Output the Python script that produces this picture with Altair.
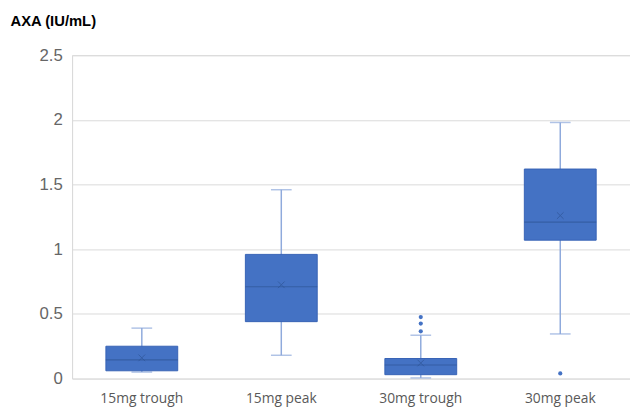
import altair as alt
import pandas as pd

categories = ["15mg trough", "15mg peak", "30mg trough", "30mg peak"]
whisker_low = [0.05, 0.18, 0.005, 0.345]
q1 = [0.06, 0.44, 0.03, 1.07]
median = [0.145, 0.71, 0.105, 1.21]
q3 = [0.25, 0.96, 0.155, 1.62]
whisker_high = [0.39, 1.46, 0.335, 1.98]
mean = [0.16, 0.725, 0.12, 1.26]

outlier_cat = ["30mg trough", "30mg trough", "30mg trough", "30mg peak"]
outlier_val = [0.475, 0.425, 0.365, 0.04]

df = pd.DataFrame({
    "cat": categories, "lo": whisker_low, "q1": q1, "med": median,
    "q3": q3, "hi": whisker_high, "mean": mean,
})
out = pd.DataFrame({"cat": outlier_cat, "v": outlier_val})

x = alt.X("cat:N", sort=categories,
          scale=alt.Scale(paddingInner=0, paddingOuter=0),
          axis=alt.Axis(title=None, labelAngle=0, ticks=False, domain=False,
                        labelFont="Open Sans", labelFontSize=14,
                        labelColor="#595959", labelPadding=13))
yscale = alt.Scale(domain=[0, 2.5], nice=False)
yaxis = alt.Axis(title="AXA (IU/mL)", values=[0, 0.5, 1, 1.5, 2, 2.5],
                 labelExpr="datum.value",
                 grid=True, gridColor="#D9D9D9", gridWidth=1,
                 domain=True, domainColor="#D9D9D9", ticks=False,
                 labelFont="Liberation Sans", labelFontSize=17,
                 labelColor="#666666", labelPadding=10,
                 titleAngle=0, titleAlign="left", titleBaseline="middle",
                 titleX=-63, titleY=-35, titleFont="Liberation Sans",
                 titleFontSize=15, titleFontWeight="bold", titleColor="#000000")

base = alt.Chart(df)

whisk = base.mark_rule(color="#8FAADC", strokeWidth=1.5).encode(
    x=x, y=alt.Y("lo:Q", scale=yscale, axis=yaxis), y2="hi:Q")
caps_hi = base.mark_tick(color="#8FAADC", size=21, thickness=1.5, orient="horizontal").encode(
    x=x, y=alt.Y("hi:Q", scale=yscale))
caps_lo = base.mark_tick(color="#8FAADC", size=21, thickness=1.5, orient="horizontal").encode(
    x=x, y=alt.Y("lo:Q", scale=yscale))
box = base.mark_bar(color="#4472C4", stroke="#3763B5", strokeWidth=1,
                    width={"band": 0.515}).encode(
    x=x, y=alt.Y("q1:Q", scale=yscale), y2="q3:Q")
med = base.mark_tick(color="#2F5597", size=73, thickness=1.2, orient="horizontal").encode(
    x=x, y=alt.Y("med:Q", scale=yscale))
mn = base.mark_point(shape="M-1,-1L1,1M1,-1L-1,1", filled=False, color="#2F5597",
                     size=45, strokeWidth=1).encode(
    x=x, y=alt.Y("mean:Q", scale=yscale))
outl = alt.Chart(out).mark_circle(color="#4472C4", size=18, opacity=1).encode(
    x=alt.X("cat:N", sort=categories, scale=alt.Scale(paddingInner=0, paddingOuter=0)),
    y=alt.Y("v:Q", scale=yscale))

chart = alt.layer(whisk, caps_hi, caps_lo, box, med, mn, outl).properties(
    width=566, height=328,
    autosize=alt.AutoSizeParams(type="none"),
    padding={"left": 65, "top": 45, "right": 0, "bottom": 30},
).configure_view(stroke=None).configure(background="white")

chart.save("out.html", embed_options={"renderer": "svg", "actions": False})
